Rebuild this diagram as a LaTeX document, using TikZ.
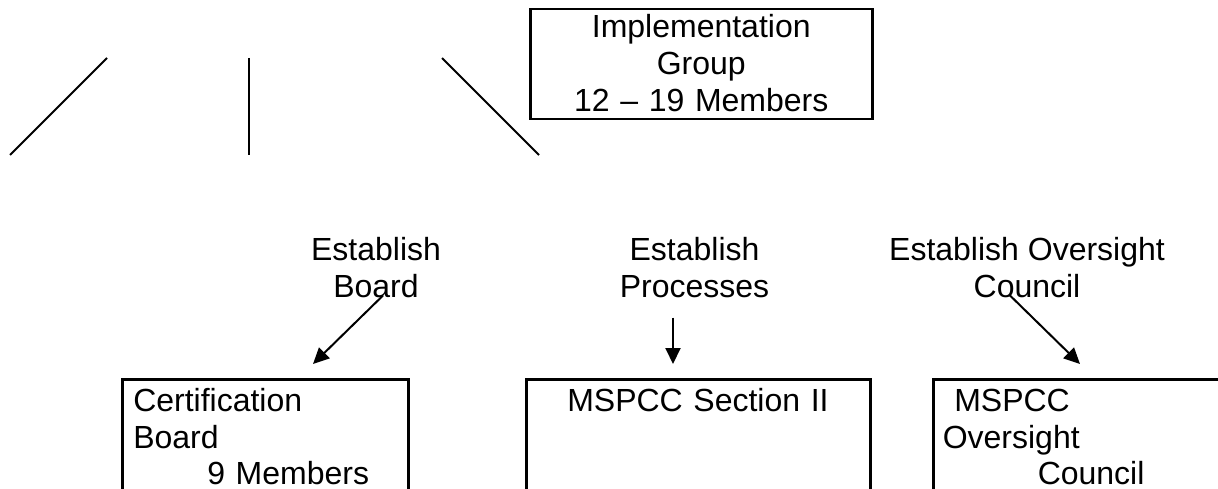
\documentclass[tikz,border=0pt]{standalone}
\usepackage{fontspec}
\setmainfont{Liberation Sans}
\usetikzlibrary{arrows.meta}

\begin{document}
\begin{tikzpicture}[x=1pt, y=-1pt,
		riquadro/.style={draw, line width=2.5pt, inner ysep=0pt, anchor=north west, font=\fontsize{32}{36.8}\selectfont},
		etichetta/.style={inner sep=0pt, anchor=base, align=center, font=\fontsize{32}{36.8}\selectfont},
		linea/.style={line width=2pt},
		freccia/.style={line width=2pt, -{Triangle[length=16pt, width=15pt]}}]
		\useasboundingbox (0,0) rectangle (1218,489);
		\clip (0,0) rectangle (1218,489);
		% riquadro in alto
		\node[riquadro, inner xsep=0pt, text width=342pt, align=center, text height=28.7pt, text depth=81.3pt]
		(gruppo) at (529,8) {Implementation\\Group\\12 – 19 Members};
		% linee in alto a sinistra
		\draw[linea] (10,155) -- (107,58);
		\draw[linea] (249,58) -- (249,155);
		\draw[linea] (442,58) -- (539,155);
		% etichette
		\node[etichetta] (stabilisciboard) at (376,297) {Establish\\Board};
		\node[etichetta] (stabilisciprocessi) at (694.5,297) {Establish\\Processes};
		\node[etichetta] (stabilisciconsiglio) at (1027,297) {Establish Oversight\\Council};
		% riquadri in basso
		\node[riquadro, inner xsep=11pt, text width=264pt, align=left, text height=32pt, text depth=200pt]
		(certificazione) at (121,378) {Certification\\Board\\\hspace*{74pt}9 Members};
		\node[riquadro, inner xsep=11pt, text width=322pt, align=left, text height=32pt, text depth=200pt]
		(sezione) at (525,378) {\hspace*{30pt}MSPCC Section II};
		\node[riquadro, inner xsep=9.5pt, text width=381pt, align=left, text height=32pt, text depth=200pt]
		(consiglio) at (932,378) {\hspace*{11.5pt}MSPCC\\Oversight\\\hspace*{95pt}Council};
		% frecce
		\draw[freccia] ([xshift=7pt, yshift=2pt]stabilisciboard.south) -- ([xshift=192pt, yshift=14pt]certificazione.north west);
		\draw[freccia] ([xshift=-21.5pt, yshift=-20pt]stabilisciprocessi.south) -- ([xshift=148pt, yshift=14pt]sezione.north west);
		\draw[freccia] ([xshift=-18pt, yshift=3pt]stabilisciconsiglio.south) -- ([xshift=148pt, yshift=14pt]consiglio.north west);
	\end{tikzpicture}
\end{document}
